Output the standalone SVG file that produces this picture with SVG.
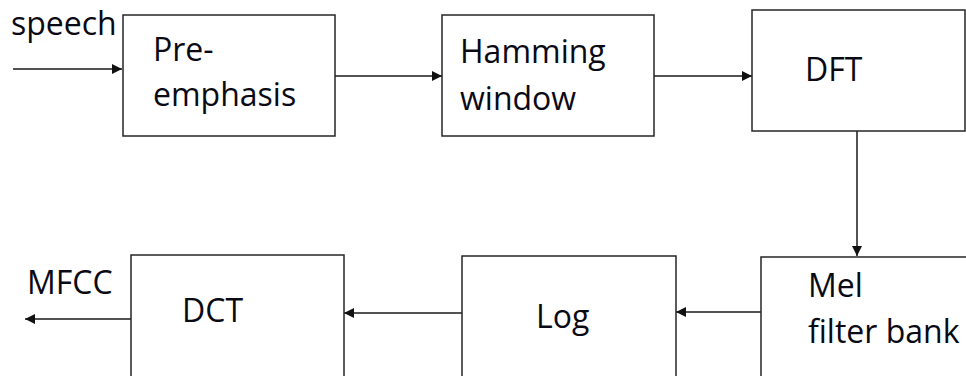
<svg xmlns="http://www.w3.org/2000/svg" width="966" height="376" viewBox="0 0 966 376">
<style>
.box{fill:#fff;stroke:#262626;stroke-width:1.5}
.ln{fill:none;stroke:#1a1a1a;stroke-width:1.5;marker-end:url(#ah)}
text{font-family:"Open Sans","Noto Sans","Liberation Sans",sans-serif;font-size:32px;fill:#0a0a14}
</style>
<defs>
<marker id="ah" viewBox="0 0 10 10" refX="10" refY="5" markerWidth="10" markerHeight="10" markerUnits="userSpaceOnUse" orient="auto">
<path d="M0,0 L10,5 L0,10 z" fill="#111"/>
</marker>
</defs>
<rect width="966" height="376" fill="#fff"/>
<g id="connectors">
<line class="ln" x1="13" y1="69" x2="122" y2="69"/>
<line class="ln" x1="335" y1="76" x2="442" y2="76"/>
<line class="ln" x1="654" y1="76" x2="752" y2="76"/>
<line class="ln" x1="857" y1="131" x2="857" y2="256"/>
<line class="ln" x1="761" y1="312" x2="676" y2="312"/>
<line class="ln" x1="462" y1="313" x2="344" y2="313"/>
<line class="ln" x1="131" y1="319" x2="25" y2="319"/>
</g>
<g id="label-speech"><text x="11" y="35">speech</text></g>
<g id="label-mfcc"><text x="27" y="294">MFCC</text></g>
<g id="pre-emphasis"><rect class="box" x="123" y="15" width="212" height="121"/><text x="153" y="61">Pre-</text><text x="153" y="106">emphasis</text></g>
<g id="hamming"><rect class="box" x="442" y="15" width="212" height="121"/><text x="460" y="63">Hamming</text><text x="460" y="110">window</text></g>
<g id="dft"><rect class="box" x="752" y="10" width="213" height="121"/><text x="805" y="81">DFT</text></g>
<g id="mel"><rect class="box" x="761" y="257" width="220" height="130"/><text x="808" y="297">Mel</text><text x="808" y="343">filter bank</text></g>
<g id="log"><rect class="box" x="462" y="256" width="214" height="130"/><text x="536" y="328">Log</text></g>
<g id="dct"><rect class="box" x="131" y="255" width="213" height="130"/><text x="182" y="322">DCT</text></g>
</svg>
